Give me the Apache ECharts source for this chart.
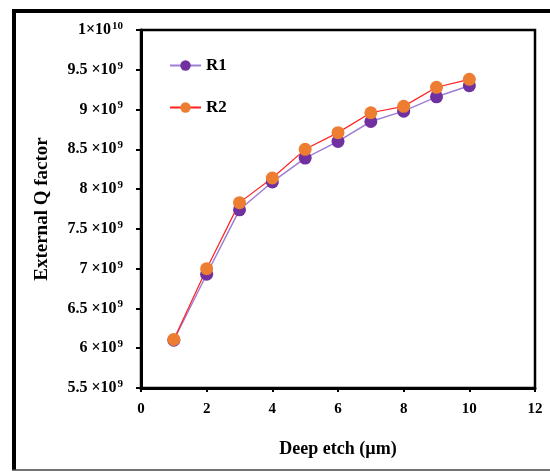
<!DOCTYPE html>
<html><head><meta charset="utf-8">
<script src="https://cdn.jsdelivr.net/npm/echarts@6/dist/echarts.min.js"></script>
<style>html,body{margin:0;padding:0;background:#fff}#c{width:550px;height:472px}</style>
</head><body><div id="c"></div>
<script>
const etch = [1, 2, 3, 4, 5, 6, 7, 8, 9, 10];
const r1 = [6.10e9, 6.93e9, 7.74e9, 8.09e9, 8.39e9, 8.60e9, 8.85e9, 8.98e9, 9.16e9, 9.30e9];
const r2 = [6.11e9, 7.00e9, 7.83e9, 8.14e9, 8.50e9, 8.71e9, 8.96e9, 9.04e9, 9.28e9, 9.38e9];
const seriesNames = ['R1', 'R2'];
const font = '"Liberation Serif","Times New Roman",serif';
const chart = echarts.init(document.getElementById('c'));
function yfmt(v){
  if (v >= 1e10 - 1) return '{b|1×10}{s|10}';
  let m = Math.round(v/1e8)/10;
  return '{b|' + m + ' ×10}{s|9}';
}
chart.setOption({
  animation: false,
  backgroundColor: '#fff',
  textStyle: {fontFamily: font},
  grid: {left: 141, top: 30, right: 15, bottom: 84, show: true, borderColor: '#000', borderWidth: 2.5},
  legend: {
    orient: 'vertical', left: 164, top: 52, itemGap: 25, itemWidth: 31, itemHeight: 13,
    textStyle: {fontFamily: font, fontWeight: 'bold', fontSize: 17, color: '#000'},
    data: seriesNames
  },
  xAxis: {
    type: 'value', min: 0, max: 12, interval: 2,
    name: 'Deep etch (µm)', nameLocation: 'middle', nameGap: 52,
    nameTextStyle: {fontFamily: font, fontWeight: 'bold', fontSize: 18, color: '#000'},
    axisLine: {lineStyle: {color: '#000', width: 3}},
    axisTick: {show: true, length: 4, lineStyle: {color: '#000', width: 2}},
    axisLabel: {fontFamily: font, fontWeight: 'bold', fontSize: 15, color: '#000', margin: 14},
    splitLine: {show: false}
  },
  yAxis: {
    type: 'value', min: 5.5e9, max: 1e10, interval: 0.5e9,
    name: 'External Q factor', nameLocation: 'middle', nameGap: 89, nameRotate: 90,
    nameTextStyle: {fontFamily: font, fontWeight: 'bold', fontSize: 19, color: '#000'},
    axisLine: {show: true, lineStyle: {color: '#000', width: 3}},
    axisTick: {show: true, length: 5, lineStyle: {color: '#000', width: 2}},
    axisLabel: {
      formatter: yfmt, margin: 18,
      rich: {
        b: {fontFamily: font, fontWeight: 'bold', fontSize: 16, color: '#000'},
        s: {fontFamily: font, fontWeight: 'bold', fontSize: 11, color: '#000', verticalAlign: 'top', padding: [0, 0, 8, 1]}
      }
    },
    splitLine: {show: false}
  },
  series: [
    {name: seriesNames[0], type: 'line', data: etch.map((x, i) => [x, r1[i]]),
     symbol: 'circle', symbolSize: 13,
     itemStyle: {color: '#7030A0'}, lineStyle: {color: '#9F7FD6', width: 1.5}},
    {name: seriesNames[1], type: 'line', data: etch.map((x, i) => [x, r2[i]]),
     symbol: 'circle', symbolSize: 13,
     itemStyle: {color: '#ED7D31'}, lineStyle: {color: '#FF2020', width: 1.2}}
  ],
  graphic: [
    {type: 'line', shape: {x1: 14, y1: 11, x2: 560, y2: 11}, style: {stroke: '#000', lineWidth: 4}},
    {type: 'line', shape: {x1: 14, y1: 9, x2: 14, y2: 470}, style: {stroke: '#000', lineWidth: 4}},
    {type: 'line', shape: {x1: 12, y1: 470, x2: 560, y2: 470}, style: {stroke: '#444', lineWidth: 1.5}}
  ]
});
</script></body></html>
